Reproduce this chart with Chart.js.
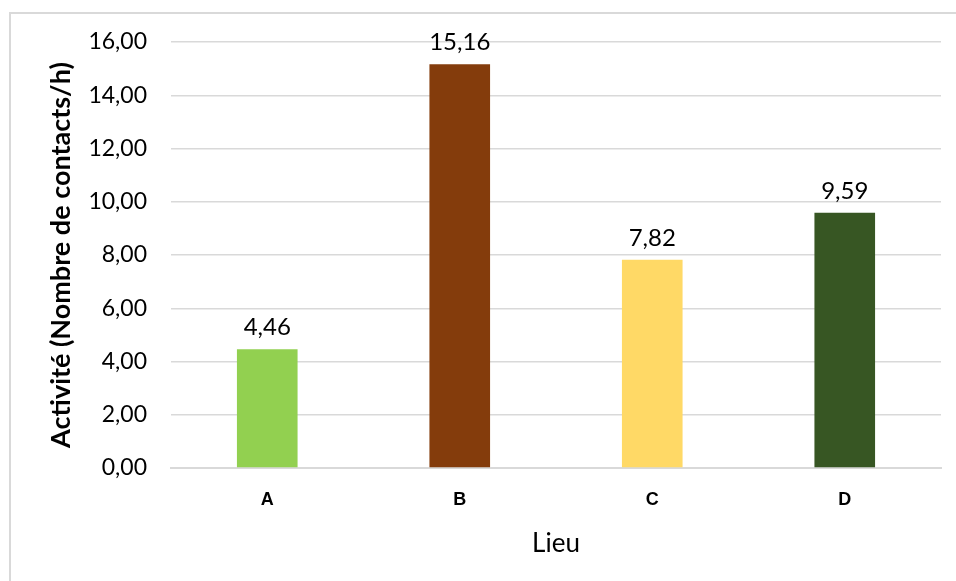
<!DOCTYPE html>
<html>
<head>
<meta charset="utf-8">
<script src="https://cdn.jsdelivr.net/npm/chart.js@4.4.1/dist/chart.umd.min.js"></script>
<style>
  html, body { margin: 0; padding: 0; background: #fff; }
  #wrap { width: 956px; height: 581px; position: relative; }
</style>
</head>
<body>
<div id="wrap"><canvas id="c" width="956" height="581"></canvas></div>
<script>
const categories = ["A", "B", "C", "D"];
const values = [4.46, 15.16, 7.82, 9.59];
const barColors = ["#92d050", "#843c0c", "#ffd966", "#375623"];
const yTicks = [0, 2, 4, 6, 8, 10, 12, 14, 16];
const xTitle = "Lieu";
const yTitle = "Activité (Nombre de contacts/h)";

const fmt = v => v.toFixed(2).replace('.', ',');
const FONT = "Lato, 'Noto Sans', sans-serif";

const borderPlugin = {
  id: 'frame',
  beforeDraw(chart) {
    const ctx = chart.ctx;
    ctx.save();
    ctx.fillStyle = '#fff';
    ctx.fillRect(0, 0, chart.width, chart.height);
    ctx.strokeStyle = '#d9d9d9';
    ctx.lineWidth = 2;
    ctx.strokeRect(10, 13, chart.width + 20, chart.height + 20);
    ctx.restore();
  }
};

const labelPlugin = {
  id: 'valueLabels',
  afterDatasetsDraw(chart) {
    const ctx = chart.ctx;
    const meta = chart.getDatasetMeta(0);
    ctx.save();
    ctx.font = "24px " + FONT;
    ctx.fillStyle = '#000';
    ctx.textAlign = 'center';
    ctx.textBaseline = 'alphabetic';
    meta.data.forEach((bar, i) => {
      ctx.fillText(fmt(values[i]), bar.x, bar.y - 14);
    });
    ctx.restore();
  }
};

new Chart(document.getElementById('c'), {
  type: 'bar',
  data: {
    labels: categories,
    datasets: [{
      data: values,
      backgroundColor: barColors,
      borderWidth: 0,
      categoryPercentage: 1,
      barPercentage: 0.315
    }]
  },
  options: {
    responsive: false,
    animation: false,
    devicePixelRatio: 1,
    layout: { padding: { left: 0, right: 15, top: 42, bottom: 0 } },
    plugins: { legend: { display: false }, tooltip: { enabled: false } },
    scales: {
      x: {
        afterFit(scale) { scale.height = 113; },
        grid: { display: false, drawTicks: false },
        border: { display: true, color: '#d9d9d9', width: 2 },
        ticks: { padding: 21, color: '#000', font: { family: "'Liberation Sans', Arial, sans-serif", size: 18, weight: 'bold' } },
        title: { display: true, text: xTitle, color: '#000', font: { family: FONT, size: 26 }, padding: { top: 0, bottom: 22 } }
      },
      y: {
        min: 0, max: 16,
        afterFit(scale) { scale.width = 171; },
        afterBuildTicks(scale) { scale.ticks = yTicks.map(v => ({ value: v })); },
        grid: { color: '#d9d9d9', lineWidth: 1.5, drawTicks: false },
        border: { display: false },
        ticks: { padding: 24, color: '#000', font: { family: FONT, size: 23 }, callback: v => fmt(v) },
        title: { display: true, text: yTitle, color: '#000', font: { family: FONT, size: 27, weight: 'bold' }, padding: { top: 45, bottom: 0 } }
      }
    }
  },
  plugins: [borderPlugin, labelPlugin]
});
</script>
</body>
</html>
